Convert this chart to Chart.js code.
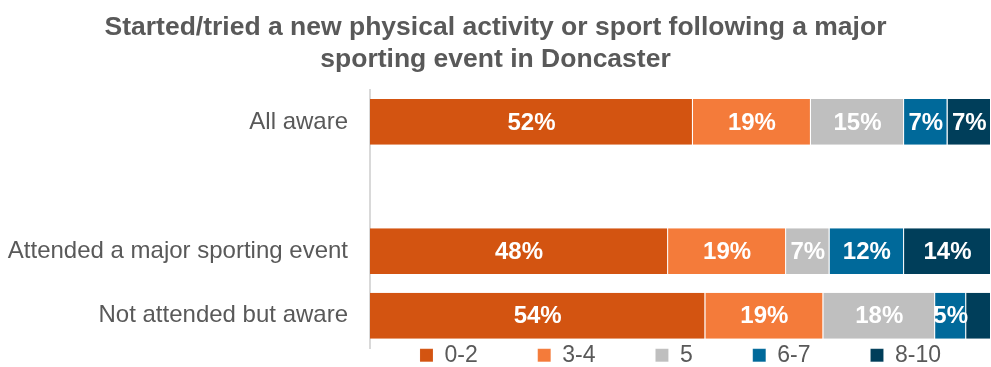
<!DOCTYPE html>
<html>
<head>
<meta charset="utf-8">
<title>Started/tried a new physical activity or sport following a major sporting event in Doncaster</title>
<script src="https://cdn.jsdelivr.net/npm/chart.js@4/dist/chart.umd.min.js"></script>
<style>
  html, body { margin: 0; padding: 0; background: #FFFFFF; }
  #wrap { position: relative; width: 991px; height: 367px; }
</style>
</head>
<body>
<div id="wrap"><canvas id="chart"></canvas></div>
<script>
// Survey groups (the blank entry keeps the gap under "All aware")
const categories = ['All aware', '', 'Attended a major sporting event', 'Not attended but aware'];

// Share of respondents (%) by score band
const score0to2 = [52, null, 48, 54];
const score3to4 = [19, null, 19, 19];
const score5 = [15, null, 7, 18];
const score6to7 = [7, null, 12, 5];
const score8to10 = [7, null, 14, 4];

const seriesNames = ['0-2', '3-4', '5', '6-7', '8-10'];
const seriesValues = [score0to2, score3to4, score5, score6to7, score8to10];
const seriesColours = ['#D35411', '#F47B3A', '#BFBFBF', '#00699A', '#003E5A'];

const FONT = '"Liberation Sans", Arial, Helvetica, sans-serif';
const TEXT_GREY = '#595959';
const LEGEND_FONT_SIZE = 23;
const LEGEND_PADDING = 60;
const MIN_LABELLED = 5; // smaller segments stay unlabelled

// Percentage written in the middle of each segment
const segmentLabels = {
  id: 'segmentLabels',
  afterDatasetsDraw(chart) {
    const ctx = chart.ctx;
    ctx.save();
    ctx.font = 'bold 24px ' + FONT;
    ctx.fillStyle = '#FFFFFF';
    ctx.textAlign = 'center';
    ctx.textBaseline = 'middle';
    chart.data.datasets.forEach((ds, i) => {
      const meta = chart.getDatasetMeta(i);
      if (meta.hidden) return;
      meta.data.forEach((bar, j) => {
        const v = ds.data[j];
        if (v == null || v < MIN_LABELLED) return;
        const c = bar.getCenterPoint();
        ctx.fillText(v + '%', c.x, c.y + 1);
      });
    });
    ctx.restore();
  }
};

// Keep the legend in a thin strip just below the plot, centred on the bars
const legendPlacement = {
  id: 'legendPlacement',
  beforeInit(chart) {
    const legend = chart.legend;
    const fit = legend.fit;
    legend.fit = function () {
      fit.call(this);
      this.height = 19;
    };
  },
  afterLayout(chart) {
    const legend = chart.legend;
    const area = chart.chartArea;
    const cx = (area.left + area.right) / 2;
    const half = chart.width / 2;
    legend.left = cx - half;
    legend.right = cx + half;
    legend.top = area.bottom + 7.3 - LEGEND_PADDING - LEGEND_FONT_SIZE / 2;
  }
};

new Chart(document.getElementById('chart'), {
  type: 'bar',
  data: {
    labels: categories,
    datasets: seriesNames.map((name, i) => ({
      label: name,
      data: seriesValues[i],
      backgroundColor: seriesColours[i],
      borderColor: 'rgba(255,255,255,0.4)',
      borderWidth: { top: 0, bottom: 0, left: 0, right: 1 },
      borderSkipped: false,
      barPercentage: 0.71,
      categoryPercentage: 1
    }))
  },
  options: {
    indexAxis: 'y',
    responsive: true,
    maintainAspectRatio: false,
    animation: false,
    layout: { padding: { left: 0, right: 0, top: 0, bottom: 0 } },
    scales: {
      x: {
        stacked: true,
        min: 0,
        max: 100,
        display: false
      },
      y: {
        stacked: true,
        grid: { display: false, drawTicks: false },
        border: { display: true, color: '#D9D9D9', width: 2 },
        ticks: {
          color: TEXT_GREY,
          padding: 22,
          font: { family: FONT, size: 24 }
        },
        afterFit(scale) {
          scale.width = 370;
          scale.paddingTop = 0;
          scale.paddingBottom = 0;
        }
      }
    },
    plugins: {
      title: {
        display: true,
        text: ['Started/tried a new physical activity or sport following a major', 'sporting event in Doncaster'],
        color: TEXT_GREY,
        font: { family: FONT, size: 26.5, weight: 'bold', lineHeight: 1.2 },
        padding: { top: 11.5, bottom: 14.5 }
      },
      legend: {
        position: 'bottom',
        align: 'center',
        labels: {
          color: TEXT_GREY,
          boxWidth: 13,
          boxHeight: 13,
          padding: LEGEND_PADDING,
          font: { family: FONT, size: LEGEND_FONT_SIZE }
        }
      },
      tooltip: { enabled: false }
    }
  },
  plugins: [segmentLabels, legendPlacement]
});
</script>
</body>
</html>
